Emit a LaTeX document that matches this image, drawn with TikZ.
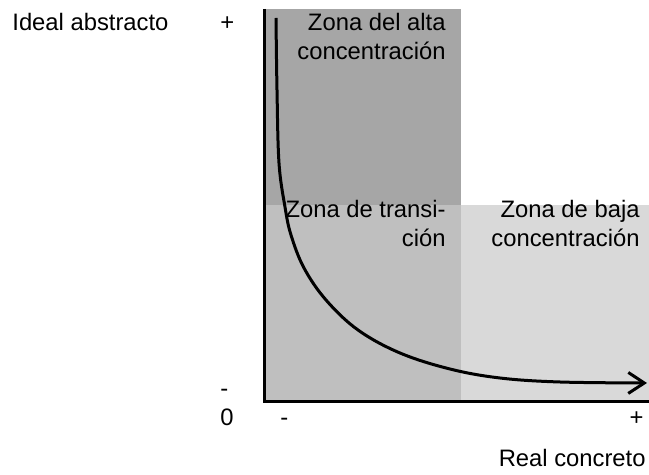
\documentclass[tikz,border=0pt]{standalone}
\usepackage{fontspec}
\setmainfont{Liberation Sans}
\definecolor{zoneHigh}{HTML}{A6A6A6}
\definecolor{zoneMid}{HTML}{BFBFBF}
\definecolor{zoneLow}{HTML}{D9D9D9}
\usetikzlibrary{arrows.meta}

\begin{document}
\begin{tikzpicture}[x=0.5pt, y=-0.5pt,
    lbl/.style={font=\fontsize{11.9}{14.5}\selectfont, inner sep=0pt},
    zonelbl/.style={lbl, align=right, anchor=base east},
    axisline/.style={line width=1.5pt},
    trend/.style={line width=1.5pt, -{Straight Barb[length=8pt, width=10.5pt]}}]
  \useasboundingbox (0,0) rectangle (649,475);
  % zones
  \fill[zoneHigh] (264,9) rectangle (461,205);
  \fill[zoneMid] (264,205) rectangle (461,402);
  \fill[zoneLow] (461,205) rectangle (649,402);
  % axes
  \coordinate (top) at (264,9);
  \coordinate (origin) at (264,402);
  \coordinate (right) at (649,402);
  \draw[axisline] (top) -- (origin) -- (right);
  % zone labels (base = last line)
  \node[zonelbl] (high) at (446,60) {Zona del alta\\concentración};
  \node[zonelbl] (trans) at (446,247) {Zona de transi-\\ción};
  \node[zonelbl] (low) at (640,247) {Zona de baja\\concentración};
  % curve
  \coordinate (cstart) at (276,18);
  \coordinate (cend) at (647,383);
  \draw[trend] plot[smooth, tension=0.6] coordinates {(cstart) (277,90) (279,163)
    (285,207) (291,235) (304,268) (326,300) (358,330) (400,353) (450,369)
    (500,378) (560,382) (cend)};
  % axis labels
  \node[lbl, anchor=base west] (ideal) at (12,31) {Ideal abstracto};
  \node[lbl, anchor=base west] (yplus) at (220,31) {+};
  \node[lbl, anchor=base west] (yminus) at (220,397) {-};
  \node[lbl, anchor=base west] (zero) at (220,426) {0};
  \node[lbl, anchor=base west] (xminus) at (280,426) {-};
  \node[lbl, anchor=base east] (xplus) at (644,426) {+};
  \node[lbl, anchor=base east] (real) at (646,467) {Real concreto};
\end{tikzpicture}
\end{document}
